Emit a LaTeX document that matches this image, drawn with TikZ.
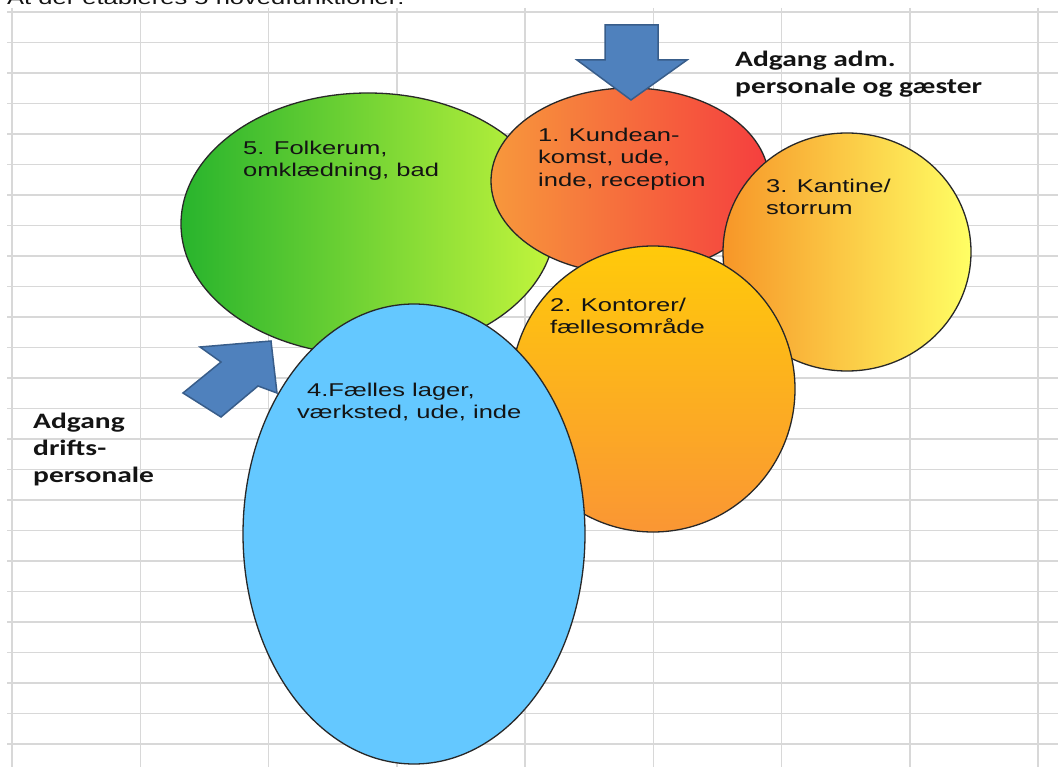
\documentclass[tikz,border=0pt]{standalone}
\usepackage{fontspec}
\setmainfont{Liberation Sans}
\newfontfamily\arialx[FakeStretch=1.38]{Liberation Sans}
\newfontfamily\calx[FakeStretch=1.34]{Carlito}
\usetikzlibrary{shapes.geometric}
\definecolor{gridc}{RGB}{216,216,216}
\definecolor{edgec}{RGB}{40,40,40}
\definecolor{greenA}{RGB}{40,180,45}
\definecolor{greenB}{RGB}{195,245,60}
\definecolor{redA}{RGB}{247,152,60}
\definecolor{redB}{RGB}{245,62,62}
\definecolor{yelA}{RGB}{247,150,40}
\definecolor{yelB}{RGB}{255,255,100}
\definecolor{oraA}{RGB}{255,202,10}
\definecolor{oraB}{RGB}{250,150,52}
\definecolor{blueE}{RGB}{100,200,255}
\definecolor{arrowF}{RGB}{79,129,189}
\definecolor{arrowD}{RGB}{56,93,138}
\definecolor{txtc}{RGB}{20,20,20}
\begin{document}
\begin{tikzpicture}[x=1pt,y=-1pt,
  gridline/.style={draw=gridc,line width=1.5pt},
  blob/.style={ellipse,draw=edgec,line width=1.3pt,inner sep=0pt},
  blockarrow/.style={fill=arrowF,draw=arrowD,line width=1.5pt,line join=miter},
  lbl/.style={anchor=north west,inner sep=0pt,align=left,text=txtc,
    font=\arialx\fontsize{18.5}{22.7}\selectfont},
  bold/.style={anchor=north west,inner sep=0pt,align=left,text=txtc,
    font=\calx\bfseries\fontsize{22}{27}\selectfont}]
\useasboundingbox (0,0) rectangle (1058,767);
\fill[white] (0,0) rectangle (1058,767);
\clip (0,0) rectangle (1058,767);
% grid
\foreach \i in {0,...,8} \draw[gridline] ({12+128.25*\i},8) -- ({12+128.25*\i},767);
\foreach \j in {0,...,24} \draw[gridline] (7,{12+30.5*\j}) -- (1058,{12+30.5*\j});
% clipped heading
\node[lbl] (head) at (7,-10) {\rule{0pt}{14pt}At der etableres 5 hovedfunktioner:};
% ellipses
\node[blob,minimum width=374pt,minimum height=262pt,left color=greenA,right color=greenB] (e5) at (368,224) {};
\node[blob,minimum width=278pt,minimum height=186pt,left color=redA,right color=redB] (e1) at (630,181) {};
\node[blob,minimum width=248pt,minimum height=238pt,left color=yelA,right color=yelB] (e3) at (847,252) {};
\node[blob,minimum width=284pt,minimum height=286pt,top color=oraA,bottom color=oraB] (e2) at (653,389) {};
\node[blob,minimum width=342pt,minimum height=460pt,fill=blueE] (e4) at (414,534) {};
% arrows
\draw[blockarrow] (605,25) -- (658,25) -- (658,60) -- (687,60) -- (631,100) -- (577,60) -- (605,60) -- cycle;
\draw[blockarrow] (271,341) -- (200,347) -- (221,362) -- (183,393) -- (221,417) -- (258,386) -- (277,393) -- cycle;
% labels
\node[lbl] (t5) at (243,140) {\rule{0pt}{14pt}5. Folkerum,\\omklædning, bad};
\node[lbl] (t1) at (538,127) {\rule{0pt}{14pt}1. Kundean-\\komst, ude,\\inde, reception};
\node[lbl] (t3) at (766,178) {\rule{0pt}{14pt}3. Kantine/\\storrum};
\node[lbl] (t2) at (550,297) {\rule{0pt}{14pt}2. Kontorer/\\fællesområde};
\node[lbl] (t4) at (297,382) {\rule{0pt}{14pt}\hspace*{10pt}4.Fælles lager,\\værksted, ude, inde};
\node[bold] (adm) at (735,49) {\rule{0pt}{17pt}Adgang adm.\\personale og gæster};
\node[bold] (drift) at (33,411) {\rule{0pt}{17pt}Adgang\\drifts-\\personale};
\end{tikzpicture}
\end{document}
